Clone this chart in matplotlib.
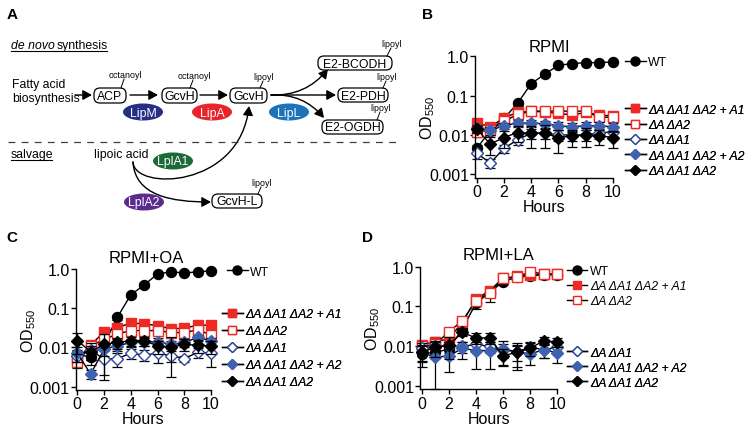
import numpy as np
import matplotlib
matplotlib.use("Agg")
import matplotlib.pyplot as plt
from matplotlib.patches import FancyBboxPatch, Ellipse, FancyArrowPatch
from matplotlib.path import Path
from matplotlib.ticker import NullLocator

plt.rcParams['font.family'] = ['Liberation Sans', 'DejaVu Sans']

W, H = 751, 427

hours = list(range(11))
strains = ['WT', 'ΔA ΔA1 ΔA2 + A1', 'ΔA ΔA2', 'ΔA ΔA1', 'ΔA ΔA1 ΔA2 + A2', 'ΔA ΔA1 ΔA2']

# panel B, RPMI
b_wt = [0.0045, 0.0126, 0.026, 0.063, 0.20, 0.35, 0.59, 0.65, 0.69, 0.69, 0.72]
b_wt_sd = [0.001, 0.002, 0.003, 0.008, 0.02, 0.03, 0.04, 0.04, 0.04, 0.04, 0.04]
b_a1 = [0.020, 0.016, 0.027, 0.037, 0.040, 0.038, 0.035, 0.032, 0.037, 0.032, 0.030]
b_a1_sd = [0.004, 0.003, 0.004, 0.005, 0.004, 0.004, 0.005, 0.005, 0.005, 0.005, 0.004]
b_d2 = [0.012, 0.013, 0.022, 0.033, 0.040, 0.040, 0.040, 0.040, 0.040, 0.028, 0.028]
b_d2_sd = [0.003, 0.003, 0.004, 0.005, 0.004, 0.004, 0.004, 0.004, 0.004, 0.003, 0.003]
b_d1 = [0.0034, 0.0019, 0.0045, 0.0074, 0.011, 0.011, 0.010, 0.0098, 0.010, 0.011, 0.012]
b_d1_sd = [0.001, 0.0005, 0.001, 0.002, 0.003, 0.003, 0.003, 0.003, 0.003, 0.003, 0.003]
b_a2 = [0.015, 0.013, 0.017, 0.020, 0.020, 0.019, 0.017, 0.016, 0.017, 0.017, 0.016]
b_a2_sd = [0.003, 0.003, 0.003, 0.004, 0.004, 0.004, 0.004, 0.004, 0.004, 0.004, 0.004]
b_d12 = [0.014, 0.0058, 0.0085, 0.0114, 0.0108, 0.011, 0.0085, 0.0093, 0.0098, 0.0095, 0.0085]
b_d12_sd = [0.003, 0.0028, 0.004, 0.005, 0.0063, 0.0063, 0.005, 0.0043, 0.005, 0.004, 0.004]

# panel C, RPMI+OA
c_wt = [0.0068, 0.0056, 0.012, 0.059, 0.22, 0.39, 0.75, 0.85, 0.79, 0.85, 0.90]
c_wt_sd = [0.002, 0.002, 0.003, 0.01, 0.03, 0.04, 0.05, 0.05, 0.05, 0.05, 0.05]
c_a1 = [0.0050, 0.0115, 0.025, 0.032, 0.042, 0.040, 0.036, 0.030, 0.031, 0.037, 0.037]
c_a1_sd = [0.002, 0.002, 0.004, 0.005, 0.005, 0.005, 0.005, 0.004, 0.004, 0.004, 0.004]
c_d2 = [0.0042, 0.011, 0.016, 0.022, 0.027, 0.027, 0.027, 0.024, 0.024, 0.028, 0.021]
c_d2_sd = [0.001, 0.002, 0.003, 0.004, 0.004, 0.004, 0.004, 0.004, 0.004, 0.004, 0.004]
c_d1 = [0.0062, 0.0087, 0.0050, 0.0052, 0.0071, 0.0064, 0.0071, 0.0062, 0.0052, 0.0075, 0.0072]
c_d1_sd = [0.002, 0.004, 0.003, 0.002, 0.002, 0.002, 0.003, 0.002, 0.001, 0.002, 0.004]
c_a2 = [0.0072, 0.0021, 0.009, 0.011, 0.0134, 0.014, 0.014, 0.012, 0.0134, 0.018, 0.0148]
c_a2_sd = [0.003, 0.0005, 0.003, 0.003, 0.003, 0.003, 0.003, 0.003, 0.003, 0.003, 0.003]
c_d12 = [0.015, 0.0078, 0.012, 0.0134, 0.015, 0.015, 0.011, 0.010, 0.012, 0.0114, 0.011]
c_d12_sd = [0.008, 0.003, 0.0105, 0.004, 0.004, 0.004, 0.004, 0.0082, 0.004, 0.004, 0.004]

# panel D, RPMI+LA
d_wt = [0.0063, 0.0069, 0.0084, 0.027, 0.12, 0.22, 0.42, 0.54, 0.59, 0.63, 0.63]
d_wt_sd = [0.002, 0.002, 0.003, 0.008, 0.035, 0.09, 0.05, 0.05, 0.05, 0.05, 0.05]
d_a1 = [0.0107, 0.013, 0.015, 0.040, 0.15, 0.25, 0.51, 0.57, 0.62, 0.65, 0.65]
d_a1_sd = [0.003, 0.004, 0.004, 0.01, 0.03, 0.05, 0.05, 0.05, 0.05, 0.05, 0.05]
d_d2 = [0.0098, 0.011, 0.023, 0.043, 0.14, 0.22, 0.51, 0.54, 0.75, 0.65, 0.65]
d_d2_sd = [0.003, 0.004, 0.005, 0.01, 0.03, 0.05, 0.05, 0.05, 0.05, 0.05, 0.05]
d_d1 = [0.0087, 0.0099, 0.0098, 0.0098, 0.011, 0.0098, 0.0081, 0.0072, 0.0093, 0.0081, 0.0093]
d_d1_sd = [0.003, 0.003, 0.003, 0.003, 0.003, 0.003, 0.003, 0.003, 0.003, 0.003, 0.003]
d_a2 = [0.0069, 0.0052, 0.0057, 0.0087, 0.0077, 0.0077, 0.0084, 0.0072, 0.0063, 0.0081, 0.0067]
d_a2_sd = [0.003, 0.0045, 0.0035, 0.004, 0.005, 0.005, 0.005, 0.0047, 0.003, 0.003, 0.003]
d_d12 = [0.0069, 0.0093, 0.0107, 0.022, 0.016, 0.016, 0.0057, 0.0069, 0.0087, 0.0137, 0.0125]
d_d12_sd = [0.004, 0.004, 0.006, 0.004, 0.005, 0.005, 0.0025, 0.004, 0.003, 0.003, 0.003]

RED = '#ee2a24'
BLUE = '#3f62b0'
BLUE_OPEN = '#2c4699'
styles = [
    dict(marker='o', ms=7.2, mfc='black', mec='black'),
    dict(marker='s', ms=7, mfc=RED, mec=RED),
    dict(marker='s', ms=6.5, mfc='white', mec=RED, mew=1.0),
    dict(marker='D', ms=6, mfc='white', mec=BLUE_OPEN, mew=1.0),
    dict(marker='D', ms=6, mfc=BLUE, mec=BLUE),
    dict(marker='D', ms=6, mfc='black', mec='black'),
]

YMIN = 10 ** -3.09

fig = plt.figure(figsize=(W / 100, H / 100), dpi=100)

# ---------- panel A (drawn in pixel coordinates) ----------
da = fig.add_axes([0, 0, 1, 1])
da.set_xlim(0, W)
da.set_ylim(H, 0)
da.axis('off')

FS = 8.8


def rbox(x0, x1, y0, y1, txt):
    da.add_patch(FancyBboxPatch((x0, y0), x1 - x0, y1 - y0,
                                boxstyle='round,pad=0,rounding_size=6',
                                fc='white', ec='black', lw=0.9))
    da.text((x0 + x1) / 2, (y0 + y1) / 2 + 0.5, txt, ha='center', va='center', fontsize=FS)


def tag(x0, y0, x1, y1, txt):
    da.plot([x0, x1], [y0, y1], color='black', lw=0.7)
    da.text(x1 + 1, y1 - 2, txt, ha='center', va='baseline', fontsize=6.4)


def enzyme(cx, cy, txt, color):
    da.add_patch(Ellipse((cx, cy), 40, 17, fc=color, ec='none'))
    da.text(cx, cy + 0.5, txt, ha='center', va='center', fontsize=FS, color='white')


def arrow(p0, p1, rad=0.0):
    da.add_patch(FancyArrowPatch(p0, p1, arrowstyle='-|>,head_length=0.55,head_width=0.3',
                                 mutation_scale=10, lw=1.0, color='black',
                                 shrinkA=0, shrinkB=0,
                                 connectionstyle='arc3,rad=%s' % rad))


def curve(pts):
    codes = [Path.MOVETO, Path.CURVE4, Path.CURVE4, Path.CURVE4]
    da.add_patch(FancyArrowPatch(path=Path(pts, codes),
                                 arrowstyle='-|>,head_length=0.55,head_width=0.3',
                                 mutation_scale=10, lw=1.0, color='black'))


da.text(7, 19, 'A', fontsize=11, fontweight='bold', va='baseline')
da.text(422, 19, 'B', fontsize=11, fontweight='bold', va='baseline')
da.text(6, 242, 'C', fontsize=11, fontweight='bold', va='baseline')
da.text(362, 242, 'D', fontsize=11, fontweight='bold', va='baseline')

da.text(11, 46, 'de novo', fontsize=FS, fontstyle='italic', va='center')
da.text(57, 46, 'synthesis', fontsize=FS, va='center')
da.plot([11, 107], [51.5, 51.5], color='black', lw=0.8)
da.text(11, 155, 'salvage', fontsize=FS, va='center')
da.plot([11, 52], [160.5, 160.5], color='black', lw=0.8)

da.text(12, 92, 'Fatty acid\nbiosynthesis', fontsize=FS, va='center', ha='left', linespacing=1.15)
arrow((75, 96), (92, 96))
rbox(94, 126, 89, 104, 'ACP')
arrow((130, 96), (158, 96))
rbox(162, 197, 89, 104, 'GcvH')
arrow((200, 96), (228, 96))
rbox(230, 267, 89, 104, 'GcvH')
tag(121, 89, 124, 80, 'octanoyl')
tag(190, 89, 193, 81, 'octanoyl')
tag(260, 89, 263, 82, 'lipoyl')

enzyme(143, 113, 'LipM', '#252f86')
enzyme(212, 113, 'LipA', '#e8232a')
enzyme(289, 113, 'LipL', '#1c72bb')

arrow((271, 96), (328, 70), rad=0.25)
arrow((271, 96), (336, 96))
arrow((271, 96), (324, 119), rad=-0.25)
rbox(318, 392, 57, 71, 'E2-BCODH')
rbox(338, 388, 89, 103, 'E2-PDH')
rbox(322, 383, 121, 135, 'E2-OGDH')
tag(387, 57, 391, 49, 'lipoyl')
tag(383, 89, 386, 82, 'lipoyl')
tag(377, 121, 380, 113, 'lipoyl')

da.plot([8, 400], [143, 143], color='0.25', lw=0.9, ls=(0, (5.5, 5)))

da.text(94, 155, 'lipoic acid', fontsize=FS, va='center')
enzyme(173, 162, 'LplA1', '#1b6a37')
enzyme(144, 203, 'LplA2', '#5b2b8f')
curve([(133, 163), (134, 192), (240, 190), (249, 107)])
curve([(133, 163), (135, 197), (172, 203), (211, 203)])
rbox(212, 262, 195, 209, 'GcvH-L')
tag(258, 195, 261, 188, 'lipoyl')


# ---------- growth curves ----------
def panel(x0, x10, y1, y001, title, title_x, title_pad, series, sds, legends):
    sx = (x10 - x0) / 10.0
    dec = (y001 - y1) / 3.0
    left = x0 - 0.1 * sx
    bottom = y001 + 0.09 * dec
    ax = fig.add_axes([left / W, 1 - bottom / H, (x10 - left) / W, (bottom - y1) / H])
    ax.set_yscale('log')
    handles = []
    for vals, sd, st, name in zip(series, sds, styles, strains):
        y = np.array(vals)
        e = np.array(sd)
        low = np.minimum(e, y - YMIN)
        ax.errorbar(hours, y, yerr=[low, e], fmt='none', ecolor='black',
                    elinewidth=0.9, capsize=3.5, capthick=0.9, clip_on=False)
        ln, = ax.plot(hours, y, color='black', lw=1.0, label=name, clip_on=False, **st)
        handles.append(ln)
    ax.set_xlim(-0.1, 10)
    ax.set_ylim(YMIN, 1.0)
    ax.set_xticks([0, 2, 4, 6, 8, 10])
    ax.set_yticks([0.001, 0.01, 0.1, 1.0])
    ax.set_yticklabels(['0.001', '0.01', '0.1', '1.0'])
    ax.yaxis.set_minor_locator(NullLocator())
    ax.tick_params(direction='out', length=3.5, width=1.0, labelsize=11.5, pad=1)
    for s in ['top', 'right']:
        ax.spines[s].set_visible(False)
    for s in ['left', 'bottom']:
        ax.spines[s].set_linewidth(1.0)
    ax.set_xlabel('Hours', fontsize=11.5, labelpad=0)
    ax.set_ylabel('OD$_{\\mathregular{550}}$', fontsize=11.5)
    ax.yaxis.set_label_coords(-0.28, 0.5)
    ax.set_title(title, fontsize=12, x=title_x, pad=title_pad)

    for idx, lx, ly, sp in legends:
        leg = ax.legend([handles[i] for i in idx], [strains[i] for i in idx],
                        loc='center left', bbox_to_anchor=(lx / W, 1 - ly / H),
                        bbox_transform=fig.transFigure, frameon=False, fontsize=8.8,
                        handlelength=1.7, handletextpad=0.2, labelspacing=sp,
                        borderpad=0, borderaxespad=0, markerscale=0.9)
        for t in leg.get_texts():
            if t.get_text() != 'WT':
                t.set_fontstyle('italic')
        ax.add_artist(leg)
    return ax


panel(476.7, 612.7, 57.3, 175.0, 'RPMI', 0.54, 3.5,
      [b_wt, b_a1, b_d2, b_d1, b_a2, b_d12],
      [b_wt_sd, b_a1_sd, b_d2_sd, b_d1_sd, b_a2_sd, b_d12_sd],
      [([0], 625, 63.3, 0.3), ([1, 2, 3, 4, 5], 625, 141.3, 0.27)])

panel(77.3, 211.0, 270.0, 387.7, 'RPMI+OA', 0.52, 5,
      [c_wt, c_a1, c_d2, c_d1, c_a2, c_d12],
      [c_wt_sd, c_a1_sd, c_d2_sd, c_d1_sd, c_a2_sd, c_d12_sd],
      [([0], 227, 272.7, 0.3), ([1, 2, 3, 4, 5], 222, 349.2, 0.42)])

panel(421.7, 557.3, 267.7, 386.7, 'RPMI+LA', 0.57, 5.5,
      [d_wt, d_a1, d_d2, d_d1, d_a2, d_d12],
      [d_wt_sd, d_a1_sd, d_d2_sd, d_d1_sd, d_a2_sd, d_d12_sd],
      [([0, 1, 2], 566.7, 287.0, 0.25), ([3, 4, 5], 566.7, 368.7, 0.25)])

fig.savefig('out.png', dpi=100, facecolor='white')
